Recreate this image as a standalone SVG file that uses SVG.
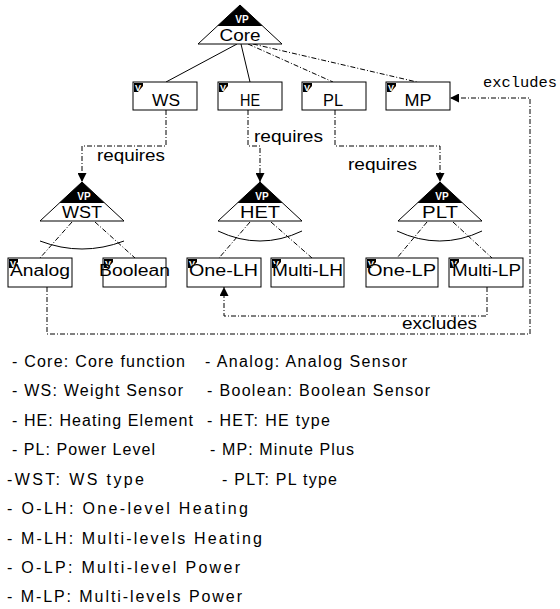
<svg xmlns="http://www.w3.org/2000/svg" width="560" height="609" viewBox="0 0 560 609">
<style>
text{font-family:"Liberation Sans",Arial,sans-serif;font-size:16px;fill:#000}
.box{fill:#fff;stroke:#000;stroke-width:1}
.tri{fill:#fff;stroke:#000;stroke-width:1}
.blk{fill:#000}
.vp{font-size:10px;font-weight:bold;fill:#fff}
.mk{font-size:9px;font-weight:bold;fill:#fff}
.solid{fill:none;stroke:#000;stroke-width:1}
.dd{fill:none;stroke:#000;stroke-width:1;stroke-dasharray:5 2 1 2}
.serif{font-family:"Liberation Mono","Courier New",monospace;font-size:15px}
</style>
<defs>
<marker id="ah" viewBox="0 0 10 10" refX="10" refY="5" markerWidth="9" markerHeight="9" markerUnits="userSpaceOnUse" orient="auto">
<path d="M0,0 L10,5 L0,10 Z" fill="#000"/>
</marker>
<g id="mark"><path d="M0,0 H9 V3 L4,9 H0 Z" fill="#000"/><text x="1" y="7.5" class="mk">V</text></g>
</defs>

<g id="connectors">
<path class="solid" d="M237,44 L166,82"/>
<path class="solid" d="M241,44 L250,82"/>
<path class="dd" d="M248,44 L333,82"/>
<path class="dd" d="M253,44 L417,82"/>
<path class="dd" d="M166,110 V146 H82 V182" marker-end="url(#ah)"/>
<path class="dd" d="M248,110 V146 H260 V182" marker-end="url(#ah)"/>
<path class="dd" d="M335,110 V146 H440 V182" marker-end="url(#ah)"/>
<path class="dd" d="M72,222 L40,258"/>
<path class="dd" d="M95,222 L135,258"/>
<path class="dd" d="M250,222 L219,258"/>
<path class="dd" d="M271,222 L312,258"/>
<path class="dd" d="M427,222 L397,258"/>
<path class="dd" d="M453,222 L492,258"/>
<path class="solid" d="M40,241 Q82,257 124,241"/>
<path class="solid" d="M218,231 Q260,251 302,231"/>
<path class="solid" d="M397,231 Q440,251 482,231"/>
<path class="dd" d="M47,287 V334 H530 V98 H450" marker-end="url(#ah)"/>
<path class="dd" d="M487,287 V316 H224 V287" marker-end="url(#ah)"/>
<text x="97" y="161" textLength="68" lengthAdjust="spacingAndGlyphs">requires</text>
<text x="254" y="142" textLength="69" lengthAdjust="spacingAndGlyphs">requires</text>
<text x="348" y="170" textLength="69" lengthAdjust="spacingAndGlyphs">requires</text>
<text x="402" y="329" textLength="75" lengthAdjust="spacingAndGlyphs">excludes</text>
<text x="483" y="87" class="serif" textLength="74" lengthAdjust="spacingAndGlyphs">excludes</text>
</g>

<g id="core" transform="translate(240,5)">
<polygon class="tri" points="0,0 -42,39 42,39"/>
<polygon class="blk" points="0,0 -22.6,21 22.6,21"/>
<text x="2" y="18" class="vp" text-anchor="middle">VP</text>
<text x="0" y="36" text-anchor="middle" textLength="41" lengthAdjust="spacingAndGlyphs">Core</text>
</g>

<g id="ws"><rect class="box" x="133" y="82" width="64" height="28"/><use href="#mark" x="134" y="83"/><text x="166" y="106" text-anchor="middle" textLength="28" lengthAdjust="spacingAndGlyphs">WS</text></g>
<g id="he"><rect class="box" x="218" y="82" width="64" height="28"/><use href="#mark" x="219" y="83"/><text x="250" y="106" text-anchor="middle" textLength="20" lengthAdjust="spacingAndGlyphs">HE</text></g>
<g id="pl"><rect class="box" x="302" y="82" width="64" height="28"/><use href="#mark" x="303" y="83"/><text x="333" y="106" text-anchor="middle" textLength="20" lengthAdjust="spacingAndGlyphs">PL</text></g>
<g id="mp"><rect class="box" x="386" y="82" width="64" height="28"/><use href="#mark" x="387" y="83"/><text x="418" y="106" text-anchor="middle" textLength="27" lengthAdjust="spacingAndGlyphs">MP</text></g>

<g id="wst" transform="translate(82,182)">
<polygon class="tri" points="0,0 -42,39 42,39"/>
<polygon class="blk" points="0,0 -22.6,21 22.6,21"/>
<text x="2" y="18" class="vp" text-anchor="middle">VP</text>
<text x="0" y="36" text-anchor="middle" textLength="40" lengthAdjust="spacingAndGlyphs">WST</text>
</g>
<g id="het" transform="translate(260,182)">
<polygon class="tri" points="0,0 -42,39 42,39"/>
<polygon class="blk" points="0,0 -22.6,21 22.6,21"/>
<text x="2" y="18" class="vp" text-anchor="middle">VP</text>
<text x="0" y="36" text-anchor="middle" textLength="40" lengthAdjust="spacingAndGlyphs">HET</text>
</g>
<g id="plt" transform="translate(440,182)">
<polygon class="tri" points="0,0 -42,39 42,39"/>
<polygon class="blk" points="0,0 -22.6,21 22.6,21"/>
<text x="2" y="18" class="vp" text-anchor="middle">VP</text>
<text x="0" y="36" text-anchor="middle" textLength="36" lengthAdjust="spacingAndGlyphs">PLT</text>
</g>

<g id="analog"><rect class="box" x="8" y="258" width="64" height="29"/><use href="#mark" x="9" y="259"/><text x="10" y="276" textLength="60" lengthAdjust="spacingAndGlyphs">Analog</text></g>
<g id="boolean"><rect class="box" x="103" y="258" width="63" height="29"/><use href="#mark" x="104" y="259"/><text x="99" y="276" textLength="71" lengthAdjust="spacingAndGlyphs">Boolean</text></g>
<g id="one-lh"><rect class="box" x="187" y="258" width="74" height="29"/><use href="#mark" x="188" y="259"/><text x="189" y="276" textLength="69" lengthAdjust="spacingAndGlyphs">One-LH</text></g>
<g id="multi-lh"><rect class="box" x="271" y="258" width="73" height="29"/><use href="#mark" x="272" y="259"/><text x="272" y="276" textLength="71" lengthAdjust="spacingAndGlyphs">Multi-LH</text></g>
<g id="one-lp"><rect class="box" x="366" y="258" width="72" height="29"/><use href="#mark" x="367" y="259"/><text x="367" y="276" textLength="69" lengthAdjust="spacingAndGlyphs">One-LP</text></g>
<g id="multi-lp"><rect class="box" x="449" y="258" width="74" height="29"/><use href="#mark" x="450" y="259"/><text x="452" y="276" textLength="69" lengthAdjust="spacingAndGlyphs">Multi-LP</text></g>

<g id="legend">
<text x="12" y="367" textLength="173" lengthAdjust="spacing">- Core: Core function</text>
<text x="205" y="367" textLength="202" lengthAdjust="spacing">- Analog: Analog Sensor</text>
<text x="12" y="396" textLength="171" lengthAdjust="spacing">- WS: Weight Sensor</text>
<text x="207" y="396" textLength="223" lengthAdjust="spacing">- Boolean: Boolean Sensor</text>
<text x="12" y="426" textLength="181" lengthAdjust="spacing">- HE: Heating Element</text>
<text x="207" y="426" textLength="123" lengthAdjust="spacing">- HET: HE type</text>
<text x="12" y="455" textLength="143" lengthAdjust="spacing">- PL: Power Level</text>
<text x="210" y="455" textLength="144" lengthAdjust="spacing">- MP: Minute Plus</text>
<text x="7" y="485" textLength="137" lengthAdjust="spacing">-WST: WS type</text>
<text x="222" y="485" textLength="115" lengthAdjust="spacing">- PLT: PL type</text>
<text x="7" y="514" textLength="241" lengthAdjust="spacing">- O-LH: One-level Heating</text>
<text x="7" y="544" textLength="255" lengthAdjust="spacing">- M-LH: Multi-levels Heating</text>
<text x="7" y="573" textLength="233" lengthAdjust="spacing">- O-LP: Multi-level Power</text>
<text x="7" y="602" textLength="235" lengthAdjust="spacing">- M-LP: Multi-levels Power</text>
</g>
</svg>
